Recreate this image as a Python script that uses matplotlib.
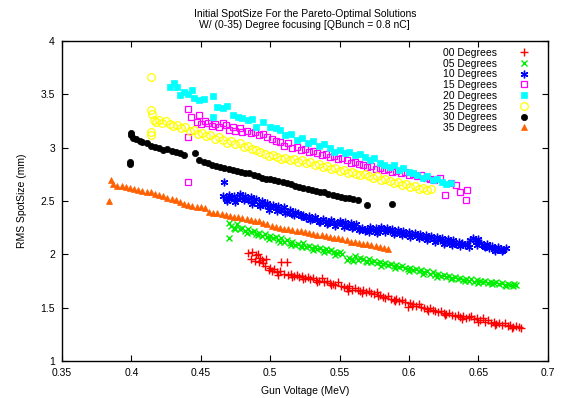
import matplotlib
matplotlib.use("Agg")
import matplotlib.pyplot as plt

plt.rcParams['font.family'] = ['Liberation Sans', 'DejaVu Sans']

# 00 degrees
x00 = [0.484, 0.486, 0.487, 0.489, 0.490, 0.491, 0.492, 0.493, 0.494, 0.495, 0.496, 0.497,
       0.499, 0.501, 0.503, 0.505, 0.507, 0.508, 0.510, 0.512, 0.513, 0.515, 0.517, 0.519,
       0.521, 0.523, 0.525, 0.527, 0.529, 0.531, 0.533, 0.535, 0.537, 0.539, 0.541, 0.543,
       0.545, 0.547, 0.549, 0.551, 0.553, 0.555, 0.557, 0.559, 0.561, 0.563, 0.565, 0.567,
       0.569, 0.571, 0.573, 0.575, 0.577, 0.579, 0.581, 0.583, 0.585, 0.587, 0.589, 0.591,
       0.593, 0.595, 0.597, 0.599, 0.601, 0.603, 0.605, 0.607, 0.609, 0.611, 0.613, 0.615,
       0.617, 0.619, 0.621, 0.623, 0.625, 0.627, 0.629, 0.631, 0.633, 0.635, 0.637, 0.639,
       0.641, 0.643, 0.645, 0.647, 0.649, 0.651, 0.653, 0.655, 0.657, 0.659, 0.661, 0.663,
       0.665, 0.667, 0.669, 0.671, 0.673, 0.675, 0.677, 0.679, 0.681,
       0.500, 0.506, 0.516, 0.524, 0.534, 0.544, 0.556, 0.566, 0.578, 0.590, 0.602, 0.614,
       0.626, 0.638, 0.650, 0.662, 0.674]
y00 = [2.01, 1.96, 2.02, 1.94, 1.99, 2.00, 1.93, 1.97, 1.95, 1.92, 1.89, 1.96,
       1.85, 1.84, 1.86, 1.83, 1.84, 1.93, 1.82, 1.93, 1.81, 1.82, 1.80, 1.81,
       1.79, 1.80, 1.78, 1.79, 1.77, 1.78, 1.76, 1.75, 1.78, 1.74, 1.75, 1.73,
       1.72, 1.71, 1.74, 1.70, 1.69, 1.68, 1.70, 1.67, 1.68, 1.67, 1.66, 1.67,
       1.65, 1.66, 1.64, 1.63, 1.65, 1.62, 1.60, 1.59, 1.61, 1.58, 1.57, 1.58,
       1.56, 1.57, 1.55, 1.51, 1.54, 1.53, 1.52, 1.53, 1.51, 1.50, 1.49, 1.50,
       1.48, 1.47, 1.46, 1.47, 1.45, 1.44, 1.45, 1.43, 1.42, 1.43, 1.41, 1.42,
       1.40, 1.41, 1.42, 1.39, 1.40, 1.38, 1.40, 1.37, 1.38, 1.36, 1.37, 1.35,
       1.36, 1.34, 1.36, 1.33, 1.34, 1.32, 1.33, 1.32, 1.31,
       1.87, 1.81, 1.79, 1.77, 1.74, 1.71, 1.66, 1.64, 1.61, 1.56, 1.52, 1.47,
       1.43, 1.39, 1.37, 1.34, 1.31]

# 05 degrees
x05 = [0.470, 0.470, 0.472, 0.474, 0.476, 0.478, 0.480, 0.482, 0.484, 0.486, 0.488, 0.490,
       0.492, 0.494, 0.496, 0.498, 0.500, 0.502, 0.504, 0.506, 0.508, 0.510, 0.512, 0.514,
       0.516, 0.518, 0.520, 0.522, 0.524, 0.526, 0.528, 0.530, 0.532, 0.534, 0.536, 0.538,
       0.540, 0.542, 0.544, 0.546, 0.548, 0.550, 0.552, 0.555, 0.557, 0.559, 0.561, 0.563,
       0.565, 0.567, 0.569, 0.571, 0.573, 0.575, 0.577, 0.579, 0.581, 0.583, 0.585, 0.587,
       0.589, 0.591, 0.593, 0.595, 0.597, 0.599, 0.601, 0.603, 0.605, 0.607, 0.609, 0.611,
       0.613, 0.615, 0.617, 0.619, 0.621, 0.623, 0.625, 0.627, 0.629, 0.631, 0.633, 0.635,
       0.637, 0.639, 0.641, 0.643, 0.645, 0.647, 0.649, 0.651, 0.653, 0.655, 0.657, 0.659,
       0.661, 0.663, 0.665, 0.667, 0.669, 0.671, 0.673, 0.675, 0.677,
       0.475, 0.483, 0.491, 0.499, 0.507, 0.515, 0.523, 0.531, 0.539, 0.547, 0.560, 0.570,
       0.580, 0.590, 0.600, 0.610, 0.620, 0.630, 0.640, 0.650, 0.660, 0.670, 0.676]
y05 = [2.29, 2.15, 2.27, 2.25, 2.28, 2.24, 2.25, 2.22, 2.24, 2.21, 2.22, 2.19,
       2.20, 2.17, 2.19, 2.16, 2.17, 2.15, 2.16, 2.13, 2.15, 2.12, 2.13, 2.11,
       2.12, 2.09, 2.10, 2.08, 2.11, 2.07, 2.08, 2.06, 2.07, 2.05, 2.06, 2.04,
       2.05, 2.03, 2.04, 2.02, 2.01, 2.02, 2.00, 1.95, 1.97, 1.96, 1.98, 1.95,
       1.97, 1.96, 1.94, 1.96, 1.93, 1.94, 1.92, 1.93, 1.91, 1.92, 1.90, 1.91,
       1.89, 1.90, 1.88, 1.89, 1.87, 1.86, 1.87, 1.85, 1.86, 1.84, 1.85, 1.83,
       1.84, 1.82, 1.83, 1.81, 1.82, 1.80, 1.81, 1.79, 1.80, 1.78, 1.79, 1.77,
       1.78, 1.76, 1.77, 1.75, 1.77, 1.74, 1.76, 1.75, 1.74, 1.75, 1.73, 1.74,
       1.73, 1.74, 1.72, 1.73, 1.71, 1.72, 1.71, 1.70, 1.71,
       2.24, 2.20, 2.18, 2.14, 2.12, 2.09, 2.07, 2.04, 2.02, 1.99, 1.94, 1.93,
       1.89, 1.87, 1.84, 1.82, 1.79, 1.77, 1.75, 1.73, 1.72, 1.70, 1.72]

# 10 degrees
x10 = [0.467, 0.466, 0.468, 0.470, 0.472, 0.474, 0.476, 0.478, 0.480, 0.482, 0.484, 0.486,
       0.488, 0.490, 0.492, 0.494, 0.496, 0.498, 0.500, 0.502, 0.504, 0.506, 0.508, 0.510,
       0.512, 0.514, 0.516, 0.518, 0.520, 0.522, 0.524, 0.526, 0.528, 0.530, 0.532, 0.534,
       0.536, 0.538, 0.540, 0.542, 0.544, 0.546, 0.548, 0.550, 0.552, 0.554, 0.556, 0.558,
       0.560, 0.562, 0.564, 0.566, 0.568, 0.570, 0.572, 0.574, 0.576, 0.578, 0.580, 0.582,
       0.584, 0.586, 0.588, 0.590, 0.592, 0.594, 0.596, 0.598, 0.600, 0.602, 0.604, 0.606,
       0.608, 0.610, 0.612, 0.614, 0.616, 0.618, 0.620, 0.622, 0.624, 0.626, 0.628, 0.630,
       0.632, 0.634, 0.636, 0.638, 0.640, 0.642, 0.644, 0.646, 0.648, 0.650, 0.652, 0.654,
       0.656, 0.658, 0.660, 0.662, 0.664, 0.666, 0.668, 0.670,
       0.469, 0.475, 0.481, 0.487, 0.493, 0.499, 0.505, 0.511, 0.517, 0.523, 0.529, 0.535,
       0.541, 0.547, 0.553, 0.559, 0.565, 0.571, 0.577, 0.583, 0.589, 0.595, 0.601, 0.607,
       0.613, 0.619, 0.625, 0.631, 0.637, 0.643, 0.649, 0.655, 0.661, 0.667]
y10 = [2.68, 2.55, 2.52, 2.56, 2.53, 2.55, 2.52, 2.57, 2.53, 2.55, 2.51, 2.54,
       2.50, 2.52, 2.47, 2.50, 2.46, 2.48, 2.45, 2.46, 2.43, 2.45, 2.42, 2.44,
       2.40, 2.42, 2.38, 2.40, 2.39, 2.36, 2.37, 2.34, 2.36, 2.33, 2.35, 2.32,
       2.30, 2.33, 2.31, 2.29, 2.32, 2.30, 2.28, 2.31, 2.29, 2.30, 2.27, 2.29,
       2.26, 2.28, 2.23, 2.25, 2.22, 2.24, 2.26, 2.23, 2.25, 2.22, 2.26, 2.24,
       2.25, 2.22, 2.24, 2.21, 2.23, 2.20, 2.22, 2.19, 2.21, 2.18, 2.20, 2.17,
       2.19, 2.16, 2.18, 2.15, 2.17, 2.14, 2.16, 2.13, 2.15, 2.12, 2.14, 2.11,
       2.13, 2.10, 2.12, 2.11, 2.09, 2.10, 2.13, 2.15, 2.12, 2.14, 2.11, 2.08,
       2.10, 2.06, 2.08, 2.03, 2.07, 2.05, 2.04, 2.06,
       2.50, 2.49, 2.51, 2.47, 2.45, 2.42, 2.41, 2.39, 2.37, 2.36, 2.32, 2.30,
       2.28, 2.27, 2.26, 2.25, 2.24, 2.21, 2.20, 2.21, 2.19, 2.18, 2.16, 2.15,
       2.13, 2.12, 2.10, 2.09, 2.08, 2.07, 2.09, 2.07, 2.05, 2.03]

# 15 degrees
x15 = [0.441, 0.443, 0.449, 0.441, 0.441, 0.447, 0.450, 0.453, 0.455, 0.458, 0.460, 0.463,
       0.466, 0.468, 0.470, 0.473, 0.475, 0.478, 0.480, 0.483, 0.486, 0.489, 0.492, 0.495,
       0.498, 0.501, 0.504, 0.507, 0.510, 0.513, 0.516, 0.519, 0.522, 0.525, 0.528, 0.531,
       0.534, 0.537, 0.540, 0.543, 0.546, 0.549, 0.552, 0.555, 0.558, 0.561, 0.564, 0.567,
       0.570, 0.573, 0.576, 0.579, 0.582, 0.585, 0.588, 0.591, 0.594, 0.597, 0.600, 0.603,
       0.606, 0.609, 0.612, 0.615, 0.618, 0.622, 0.626, 0.630, 0.634, 0.637, 0.642, 0.641]
y15 = [3.36, 3.29, 3.31, 3.10, 2.68, 3.24, 3.22, 3.25, 3.23, 3.20, 3.22, 3.19,
       3.23, 3.21, 3.17, 3.19, 3.16, 3.18, 3.15, 3.16, 3.14, 3.15, 3.12, 3.13,
       3.10, 3.08, 3.06, 3.05, 3.02, 3.04, 3.00, 3.01, 2.98, 2.99, 2.96, 2.97,
       2.95, 2.93, 2.94, 2.91, 2.92, 2.89, 2.90, 2.88, 2.86, 2.87, 2.85, 2.84,
       2.82, 2.83, 2.80, 2.81, 2.79, 2.80, 2.77, 2.78, 2.76, 2.77, 2.74, 2.75,
       2.73, 2.74, 2.72, 2.71, 2.70, 2.72, 2.56, 2.67, 2.65, 2.58, 2.60, 2.51]

# 20 degrees
x20 = [0.428, 0.431, 0.433, 0.435, 0.438, 0.441, 0.444, 0.445, 0.449, 0.452, 0.459, 0.462,
       0.466, 0.469, 0.459, 0.473, 0.477, 0.480, 0.484, 0.487, 0.490, 0.495, 0.500, 0.504,
       0.507, 0.511, 0.515, 0.519, 0.523, 0.527, 0.531, 0.535, 0.539, 0.543, 0.546, 0.550,
       0.554, 0.557, 0.561, 0.565, 0.568, 0.572, 0.575, 0.579, 0.582, 0.586, 0.589, 0.593,
       0.596, 0.600, 0.603, 0.606, 0.610, 0.613, 0.617, 0.620, 0.624, 0.627, 0.630]
y20 = [3.57, 3.61, 3.57, 3.49, 3.52, 3.50, 3.54, 3.47, 3.45, 3.46, 3.48, 3.38,
       3.37, 3.39, 3.29, 3.31, 3.29, 3.28, 3.26, 3.27, 3.19, 3.24, 3.19, 3.18,
       3.17, 3.12, 3.13, 3.07, 3.09, 3.04, 3.06, 3.02, 3.03, 3.00, 2.96, 2.98,
       2.95, 2.96, 2.93, 2.94, 2.91, 2.88, 2.90, 2.86, 2.84, 2.82, 2.84, 2.79,
       2.81, 2.77, 2.76, 2.74, 2.72, 2.73, 2.70, 2.71, 2.68, 2.66, 2.67]

# 25 degrees
x25 = [0.414, 0.414, 0.415, 0.416, 0.414, 0.414, 0.418, 0.420, 0.422, 0.425, 0.428, 0.430,
       0.433, 0.436, 0.439, 0.442, 0.445, 0.448, 0.451, 0.454, 0.457, 0.460, 0.463, 0.466,
       0.469, 0.472, 0.475, 0.478, 0.481, 0.484, 0.487, 0.490, 0.493, 0.496, 0.499, 0.502,
       0.505, 0.508, 0.511, 0.514, 0.517, 0.520, 0.523, 0.526, 0.529, 0.532, 0.535, 0.538,
       0.541, 0.544, 0.547, 0.550, 0.553, 0.556, 0.559, 0.562, 0.565, 0.568, 0.571, 0.574,
       0.577, 0.580, 0.583, 0.586, 0.589, 0.592, 0.595, 0.598, 0.601, 0.604, 0.607, 0.610,
       0.613, 0.616]
y25 = [3.66, 3.35, 3.32, 3.26, 3.15, 3.12, 3.24, 3.26, 3.23, 3.25, 3.22, 3.20,
       3.21, 3.18, 3.19, 3.16, 3.17, 3.13, 3.14, 3.11, 3.12, 3.08, 3.10, 3.07,
       3.04, 3.06, 3.03, 3.04, 3.01, 3.02, 2.99, 2.98, 2.96, 2.94, 2.92, 2.93,
       2.91, 2.89, 2.90, 2.88, 2.89, 2.87, 2.88, 2.86, 2.87, 2.84, 2.85, 2.82,
       2.83, 2.80, 2.81, 2.78, 2.79, 2.76, 2.77, 2.75, 2.74, 2.75, 2.73, 2.72,
       2.73, 2.70, 2.71, 2.69, 2.67, 2.68, 2.65, 2.66, 2.63, 2.64, 2.61, 2.62,
       2.60, 2.61]

# 30 degrees
x30 = [0.400, 0.400, 0.401, 0.399, 0.399, 0.403, 0.406, 0.408, 0.411, 0.414, 0.417, 0.420,
       0.423, 0.426, 0.429, 0.432, 0.435, 0.438, 0.446, 0.449, 0.452, 0.455, 0.458, 0.461,
       0.464, 0.467, 0.470, 0.473, 0.476, 0.479, 0.482, 0.485, 0.488, 0.491, 0.494, 0.497,
       0.500, 0.503, 0.506, 0.509, 0.512, 0.515, 0.518, 0.521, 0.524, 0.527, 0.530, 0.533,
       0.536, 0.539, 0.542, 0.545, 0.548, 0.551, 0.554, 0.557, 0.560, 0.563, 0.570, 0.588]
y30 = [3.14, 3.12, 3.09, 2.87, 2.85, 3.08, 3.06, 3.05, 3.04, 3.02, 3.01, 3.00,
       2.98, 2.99, 2.97, 2.96, 2.95, 2.93, 2.95, 2.88, 2.87, 2.86, 2.84, 2.83,
       2.82, 2.81, 2.80, 2.79, 2.78, 2.77, 2.76, 2.76, 2.74, 2.73, 2.72, 2.71,
       2.71, 2.70, 2.69, 2.68, 2.67, 2.66, 2.64, 2.63, 2.62, 2.61, 2.60, 2.59,
       2.58, 2.58, 2.57, 2.56, 2.55, 2.54, 2.53, 2.53, 2.52, 2.51, 2.46, 2.47]

# 35 degrees
x35 = [0.385, 0.384, 0.387, 0.390, 0.393, 0.396, 0.399, 0.402, 0.405, 0.408, 0.411, 0.414,
       0.417, 0.420, 0.423, 0.426, 0.429, 0.432, 0.435, 0.438, 0.441, 0.444, 0.447, 0.450,
       0.453, 0.456, 0.459, 0.462, 0.465, 0.468, 0.471, 0.474, 0.477, 0.480, 0.483, 0.486,
       0.489, 0.492, 0.495, 0.498, 0.501, 0.504, 0.507, 0.510, 0.513, 0.516, 0.519, 0.522,
       0.525, 0.528, 0.531, 0.534, 0.537, 0.540, 0.543, 0.546, 0.549, 0.552, 0.555, 0.558,
       0.561, 0.564, 0.567, 0.570, 0.573, 0.576, 0.579, 0.582, 0.585]
y35 = [2.70, 2.50, 2.66, 2.64, 2.64, 2.63, 2.62, 2.61, 2.60, 2.59, 2.58, 2.58,
       2.57, 2.56, 2.55, 2.53, 2.52, 2.51, 2.49, 2.47, 2.46, 2.45, 2.44, 2.44,
       2.43, 2.40, 2.39, 2.39, 2.38, 2.37, 2.36, 2.35, 2.35, 2.34, 2.33, 2.32,
       2.31, 2.31, 2.29, 2.28, 2.27, 2.26, 2.25, 2.24, 2.24, 2.23, 2.22, 2.22,
       2.21, 2.20, 2.19, 2.18, 2.18, 2.17, 2.16, 2.15, 2.15, 2.14, 2.13, 2.12,
       2.12, 2.11, 2.10, 2.10, 2.09, 2.08, 2.07, 2.06, 2.05]

labels = ["00 Degrees", "05 Degrees", "10 Degrees", "15 Degrees",
          "20 Degrees", "25 Degrees", "30 Degrees", "35 Degrees"]
xs = [x00, x05, x10, x15, x20, x25, x30, x35]
ys = [y00, y05, y10, y15, y20, y25, y30, y35]

styles = [
    dict(marker='+', color='#ff0000', ms=5.5, mew=1.0),
    dict(marker='x', color='#00ee00', ms=4.5, mew=1.0),
    dict(marker=(6, 2, 0), color='#0000ff', ms=5.5, mew=1.0),
    dict(marker='s', color='#ff00ff', ms=4.5, mew=0.9, mfc='none'),
    dict(marker='s', color='#00ffff', ms=5, mew=0.5),
    dict(marker='o', color='#ffff00', ms=5.5, mew=0.9, mfc='none'),
    dict(marker='o', color='#000000', ms=4.5, mew=0.5),
    dict(marker='^', color='#ff6000', ms=5, mew=0.5),
]

fig = plt.figure(figsize=(5.63, 3.98), dpi=100)
ax = fig.add_axes([0.110, 0.093, 0.863, 0.804])

for x, y, lab, st in zip(xs, ys, labels, styles):
    ax.plot(x, y, linestyle='none', label=lab, **st)

ax.set_xlim(0.35, 0.7)
ax.set_ylim(1, 4)
ax.set_xticks([0.35, 0.4, 0.45, 0.5, 0.55, 0.6, 0.65, 0.7])
ax.set_xticklabels(["0.35", "0.4", "0.45", "0.5", "0.55", "0.6", "0.65", "0.7"])
ax.set_yticks([1, 1.5, 2, 2.5, 3, 3.5, 4])
ax.set_yticklabels(["1", "1.5", "2", "2.5", "3", "3.5", "4"])
ax.tick_params(direction='in', top=True, right=True, length=4, width=0.8,
               labelsize=7.5, pad=5)
for sp in ax.spines.values():
    sp.set_linewidth(1.0)

ax.set_xlabel("Gun Voltage (MeV)", fontsize=7.5, labelpad=6)
ax.set_ylabel("RMS SpotSize (mm)", fontsize=7.5, labelpad=10)
ax.set_title("Initial SpotSize For the Pareto-Optimal Solutions\n"
             "W/ (0-35) Degree focusing [QBunch = 0.8 nC]",
             fontsize=7.5, linespacing=1.2, pad=9)

ax.legend(loc='upper right', bbox_to_anchor=(0.965, 0.985), frameon=False,
          markerfirst=False, fontsize=7.5, labelspacing=0.07, numpoints=1,
          handlelength=1.0, handletextpad=2.0, borderaxespad=0, borderpad=0.2)

fig.savefig("out.png", dpi=100)
